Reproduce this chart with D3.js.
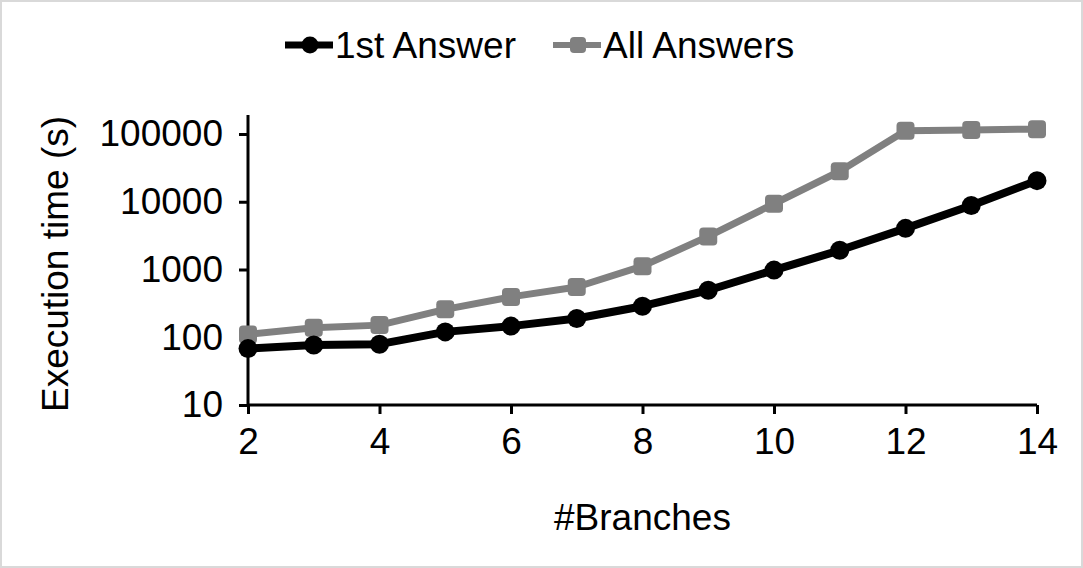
<!DOCTYPE html>
<html>
<head>
<meta charset="utf-8">
<script src="https://cdn.jsdelivr.net/npm/d3@7"></script>
<style>
  body { margin: 0; background: #fff; }
  svg text { font-family: "Liberation Sans", Arial, sans-serif; }
</style>
</head>
<body>
<svg></svg>
<script>
const branches = [2, 3, 4, 5, 6, 7, 8, 9, 10, 11, 12, 13, 14];
const firstAnswer = [68, 77, 79, 120, 146, 189, 287, 494, 980, 1920, 4050, 8800, 20500];
const allAnswers = [110, 138, 151, 258, 394, 552, 1120, 3080, 9340, 28200, 112000, 115000, 118000];
const yTicks = [10, 100, 1000, 10000, 100000];
const xTicks = [2, 4, 6, 8, 10, 12, 14];
const seriesNames = ["1st Answer", "All Answers"];

const width = 1083, height = 568;
const margin = { top: 134, right: 46, bottom: 163, left: 248 };
const fontSize = 37;

const svg = d3.select("svg")
    .attr("width", width)
    .attr("height", height);

svg.append("rect")
    .attr("x", 1).attr("y", 1)
    .attr("width", width - 2).attr("height", height - 2)
    .attr("fill", "#fff")
    .attr("stroke", "#d9d9d9")
    .attr("stroke-width", 2);

const x = d3.scaleLinear()
    .domain([2, 14])
    .range([margin.left, width - margin.right]);

const y = d3.scaleLog()
    .domain([10, 100000])
    .range([height - margin.bottom, margin.top]);

// axes
const xAxis = g => g
    .attr("transform", `translate(0,${y(10)})`)
    .call(d3.axisBottom(x).tickValues(xTicks).tickSize(9).tickPadding(14).tickFormat(d3.format("d")))
    .call(g => g.select(".domain").remove())
    .call(g => g.selectAll(".tick line").attr("stroke", "#000").attr("stroke-width", 3))
    .call(g => g.selectAll("text").attr("font-size", fontSize).attr("fill", "#000")
        .attr("font-family", "Liberation Sans, Arial, sans-serif"));

const yAxis = g => g
    .attr("transform", `translate(${x(2)},0)`)
    .call(d3.axisLeft(y).tickValues(yTicks).tickSize(9).tickPadding(16).tickFormat(d3.format("d")))
    .call(g => g.select(".domain").remove())
    .call(g => g.selectAll(".tick line").attr("stroke", "#000").attr("stroke-width", 3))
    .call(g => g.selectAll("text").attr("font-size", fontSize).attr("fill", "#000")
        .attr("font-family", "Liberation Sans, Arial, sans-serif"));

svg.append("g").call(xAxis);
svg.append("g").call(yAxis);

// axis lines
svg.append("line")
    .attr("x1", x(2)).attr("x2", x(2))
    .attr("y1", y(10) + 1).attr("y2", margin.top - 19)
    .attr("stroke", "#000").attr("stroke-width", 3);
svg.append("line")
    .attr("x1", x(2)).attr("x2", x(14))
    .attr("y1", y(10)).attr("y2", y(10))
    .attr("stroke", "#000").attr("stroke-width", 3);

// titles
svg.append("text")
    .attr("x", (x(2) + x(14)) / 2)
    .attr("y", 530)
    .attr("text-anchor", "middle")
    .attr("font-size", fontSize)
    .text("#Branches");

svg.append("text")
    .attr("transform", `translate(68,${(y(10) + margin.top - 19) / 2 + 4}) rotate(-90)`)
    .attr("text-anchor", "middle")
    .attr("font-size", fontSize)
    .text("Execution time (s)");

const line = d3.line()
    .x((d, i) => x(branches[i]))
    .y(d => y(d));

// All Answers (gray, squares)
svg.append("path")
    .datum(allAnswers)
    .attr("fill", "none")
    .attr("stroke", "#808080")
    .attr("stroke-width", 7)
    .attr("stroke-linejoin", "round")
    .attr("d", line);

svg.append("g")
    .selectAll("rect").data(allAnswers).enter().append("rect")
    .attr("x", (d, i) => x(branches[i]) - 9)
    .attr("y", d => y(d) - 9)
    .attr("width", 18).attr("height", 18)
    .attr("rx", 4)
    .attr("fill", "#808080");

// 1st Answer (black, circles)
svg.append("path")
    .datum(firstAnswer)
    .attr("fill", "none")
    .attr("stroke", "#000")
    .attr("stroke-width", 8)
    .attr("stroke-linejoin", "round")
    .attr("d", line);

svg.append("g")
    .selectAll("circle").data(firstAnswer).enter().append("circle")
    .attr("cx", (d, i) => x(branches[i]))
    .attr("cy", d => y(d))
    .attr("r", 9.5)
    .attr("fill", "#000");

// legend
const legend = svg.append("g")
    .selectAll("g")
    .data(seriesNames)
    .enter().append("g")
    .attr("transform", (d, i) => `translate(${i === 0 ? 285 : 553},45)`);

legend.append("line")
    .attr("x1", 0).attr("x2", 48)
    .attr("stroke", (d, i) => i === 0 ? "#000" : "#808080")
    .attr("stroke-width", (d, i) => i === 0 ? 7 : 6);

legend.each(function (d, i) {
    const g = d3.select(this);
    if (i === 0) {
        g.append("circle").attr("cx", 25).attr("r", 8.5).attr("fill", "#000");
    } else {
        g.append("rect").attr("x", 17).attr("y", -8).attr("width", 16).attr("height", 16)
            .attr("rx", 4).attr("fill", "#808080");
    }
});

legend.append("text")
    .attr("x", 50)
    .attr("dy", "0.36em")
    .attr("font-size", fontSize)
    .text(d => d);
</script>
</body>
</html>
